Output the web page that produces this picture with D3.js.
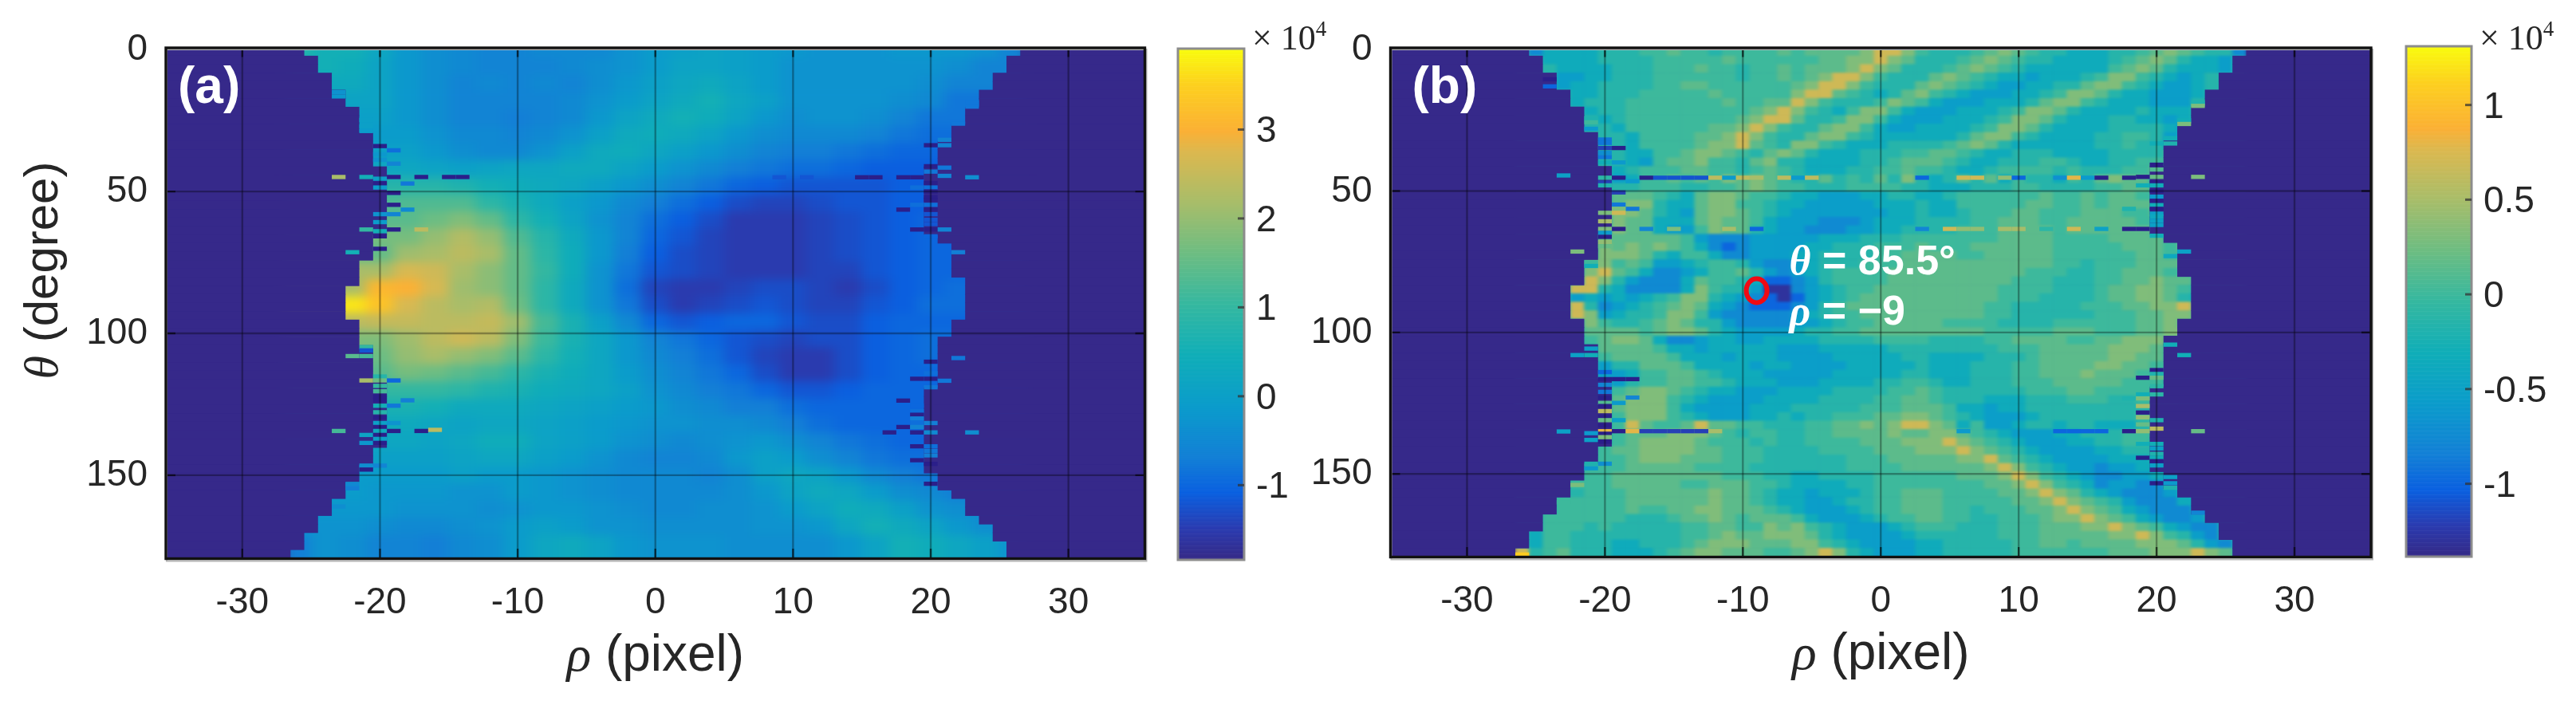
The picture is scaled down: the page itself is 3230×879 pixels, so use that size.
<!DOCTYPE html>
<html><head><meta charset="utf-8">
<script src="https://cdn.jsdelivr.net/npm/d3@7"></script>
<style>
html,body{margin:0;background:#fff;overflow:hidden}
text{font-family:"Liberation Sans",Arial,sans-serif;fill:#262626}
</style></head><body>
<script>
// ---------- data ----------
const rhoTicks=[-30,-20,-10,0,10,20,30];
const thetaTicks=[0,50,100,150];
const cbarTicksA=[-1,0,1,2,3];
const cbarTicksB=[-1,-0.5,0,0.5,1];
const parulaStops=[0,.06,.13,.2,.3,.4,.5,.6,.7,.8,.84,.93,1];
const parulaColors=["#352a87","#2a3bb0","#0a60e0","#1380d6","#0b9ccb","#10aeb8","#35b8a0","#6dbd82","#a8bd6a","#dcb84f","#fbb035","#fdd01f","#f9fb0e"];
const backgroundColor="#36298a";

// first and last valid rho for each 3 degree theta row (both panels)
const supportLeft=[-25,-24,-24,-23,-23,-22,-22,-21,-21,-21,-20,-20,-20,-20,-19,-19,-19,-19,-19,-19,-19,-19,-20,-20,-20,-21,-21,-21,-22,-22,-22,-22,-21,-21,-21,-20,-20,-20,-20,-19,-19,-19,-19,-19,-19,-19,-19,-20,-20,-21,-21,-22,-22,-23,-23,-24,-24,-25,-25,-26];
const supportRight=[26,25,25,24,24,23,23,22,22,21,21,20,20,20,19,19,19,19,19,19,19,19,20,21,21,21,21,22,22,22,22,22,21,21,20,20,20,20,20,20,19,19,19,19,19,19,19,19,19,19,20,20,21,22,22,23,24,24,25,25];

// Panel (a): values x 10^3, rows theta = 0,6,...,174; columns rho = -26,-24,...,26
const rhoCoarse=d3.range(-26,27,2);
const thetaCoarse=d3.range(0,175,6);
const fieldA=[
[8,5,5,2,-2,-4,-5,-6,-6,-5,-5,-5,-3,-1,0,1,0,-1,-2,-3,-3,-3,-2,-2,-2,-3,-6],
[5,5,4,1,-2,-4,-5,-6,-6,-6,-5,-4,-3,-1,1,1,0,-1,-3,-3,-3,-3,-3,-3,-4,-6,-6],
[3,3,3,1,-2,-4,-6,-5,-6,-5,-6,-4,-2,0,2,3,1,-1,-3,-3,-3,-3,-3,-4,-6,-6,-6],
[1,1,1,1,-2,-4,-6,-6,-6,-6,-5,-3,-1,1,3,5,2,0,-3,-3,-3,-3,-4,-5,-8,-8,-8],
[0,0,0,0,-2,-4,-6,-6,-7,-6,-5,-2,1,3,5,4,1,-2,-4,-3,-3,-4,-6,-8,-8,-8,-8],
[-1,-1,-1,-1,-1,-3,-5,-5,-6,-5,-3,0,3,4,3,1,-2,-4,-5,-5,-5,-6,-8,-9,-9,-9,-9],
[0,0,0,0,0,-2,-4,-5,-5,-3,0,3,4,2,0,-2,-4,-6,-7,-7,-8,-9,-10,-10,-10,-10,-10],
[2,2,2,2,2,1,0,1,2,2,3,3,1,-1,-3,-5,-7,-8,-9,-9,-10,-11,-11,-11,-11,-11,-11],
[8,8,8,8,8,8,7,5,4,3,2,0,-2,-4,-6,-8,-10,-11,-12,-12,-12,-12,-11,-11,-11,-11,-11],
[13,13,13,13,13,13,13,9,6,3,0,-2,-5,-7,-9,-11,-13,-14,-14,-13,-12,-12,-11,-11,-11,-11,-11],
[14,14,14,14,14,16,18,15,9,5,1,-3,-6,-9,-11,-13,-15,-15,-15,-14,-13,-12,-11,-10,-10,-10,-10],
[17,17,17,17,17,20,23,20,13,8,3,-2,-6,-10,-12,-14,-15,-15,-15,-14,-13,-12,-11,-10,-10,-10,-10],
[15,15,15,15,21,22,24,22,15,9,4,-2,-7,-11,-13,-14,-15,-15,-15,-14,-13,-12,-11,-10,-10,-10,-10],
[22,22,22,22,27,26,22,19,15,10,4,-3,-8,-12,-13,-14,-15,-15,-15,-14,-14,-12,-11,-10,-10,-10,-10],
[22,22,22,31,30,27,21,19,15,9,3,-3,-9,-14,-15,-15,-14,-13,-13,-14,-15,-13,-11,-10,-9,-9,-9],
[37,37,37,33,27,24,22,23,16,9,3,-3,-8,-13,-15,-14,-13,-12,-13,-14,-14,-12,-11,-9,-9,-9,-9],
[24,24,24,25,25,24,24,25,21,12,6,0,-5,-10,-12,-11,-10,-10,-12,-13,-13,-11,-10,-10,-10,-10,-10],
[18,18,18,18,21,24,26,24,18,11,6,2,-2,-6,-8,-10,-12,-13,-14,-13,-13,-11,-10,-9,-9,-9,-9],
[16,16,16,16,20,22,20,18,14,9,5,2,-2,-5,-7,-9,-12,-14,-15,-15,-13,-11,-10,-9,-9,-9,-9],
[14,14,14,14,17,16,14,12,9,6,4,2,-1,-4,-6,-8,-10,-13,-15,-15,-13,-11,-10,-10,-10,-10,-10],
[10,10,10,10,10,10,9,7,6,4,3,2,0,-3,-5,-7,-8,-10,-12,-12,-11,-10,-10,-10,-10,-10,-10],
[6,6,6,6,6,5,3,3,3,2,1,0,-1,-2,-4,-5,-7,-7,-9,-10,-10,-10,-10,-10,-10,-10,-10],
[3,3,3,3,3,2,1,2,2,1,0,-1,-2,-3,-3,-4,-4,-5,-7,-9,-10,-10,-10,-10,-10,-10,-10],
[2,2,2,2,2,1,2,4,4,1,0,-1,-3,-4,-5,-4,-3,-2,-4,-6,-8,-9,-10,-10,-10,-10,-10],
[0,0,0,0,0,0,1,2,2,0,-1,-3,-5,-6,-6,-5,-2,0,-1,-4,-6,-8,-9,-9,-9,-9,-9],
[-1,-1,-1,-1,-1,-1,0,-1,-1,-2,-3,-4,-5,-5,-5,-6,-4,0,2,1,-2,-5,-7,-8,-8,-8,-8],
[-1,-1,-1,-2,-2,-2,-3,-3,-1,-2,-3,-4,-5,-5,-5,-5,-4,-2,1,3,2,-1,-4,-5,-7,-7,-7],
[-2,-2,-2,-2,-3,-3,-3,-4,-3,-2,-2,-3,-4,-5,-5,-4,-4,-3,-1,1,4,3,0,-3,-4,-5,-5],
[-3,-3,-3,-4,-5,-5,-4,-3,-1,0,-1,-3,-3,-4,-4,-4,-4,-3,-3,-2,2,5,3,1,-2,-4,-4],
[-7,-3,-4,-6,-6,-7,-5,-4,-1,2,3,1,-2,-3,-3,-3,-4,-4,-4,-4,-2,1,5,4,2,0,-3]
];

// Panel (b): level digits, rows theta = 0,3,...,177; columns rho = -26..26
const levelValuesB=[-13,-10,-7.5,-5.5,-3.5,-1.5,0,1.5,3.2,7];
const fieldB=[
"5244445556 6766566667 6777789986 5556787655 4445567876 552",
"5544445555 6666676666 6677889875 5567876554 4445678754 435",
"5554444555 6667665667 6777898755 5678765444 4446787544 435",
"5553344555 6666665667 6789986555 7876544344 4568865434 555",
"5553445555 6677666666 7899865557 8765433445 5788654334 555",
"5555445556 6666766666 8997654578 6543334456 8875443334 555",
"5555455566 6666676677 9865556876 4333444578 8654443335 555",
"5555545566 6666666789 8654688643 3344456887 5444454445 555",
"5555554566 6666667899 7556886433 3444568875 4445544345 555",
"5555555466 6666778986 5578864334 4445688754 4445555435 555",
"5555555546 6667789865 5788654444 4457886544 4455665345 555",
"5555555546 6667889765 8865444555 5678754444 4455655455 555",
"5555555544 6678876578 7544455566 7765445554 4445555665 555",
"5555555543 6778665785 5444455677 7654455566 5445566665 555",
"5555555456 6677665676 5444556676 6544566665 6555667655 555",
"5555555346 6767687876 5575657585 4575746554 6578774565 555",
"5555555556 6655667876 6555666655 4445556655 5566776665 555",
"5555555777 6547887665 4433344554 4566666676 6767766676 555",
"5555555788 5447886654 4333334445 4466666776 6767777666 555",
"5555555887 5437887654 3333333445 4456667766 6777667776 555",
"5555555877 4447877643 3322234445 5556677766 7777766766 555",
"5555555877 4336877543 3222334455 5566677776 7777777666 555",
"5555557777 7763222333 3344455566 6666677776 6667777666 555",
"5555558787 8764212333 3445556667 6667777776 6666777676 555",
"5555558887 5466422333 4455556677 7766777776 6666677667 555",
"5555588676 3345665322 3455566677 7777777776 6566677777 555",
"5555589764 2234667532 3456666777 7777777666 5566777666 555",
"5555598532 2247665411 2356666777 7777776665 5566778776 555",
"5555995422 2248655300 2345667777 7777766665 5567788765 555",
"5555343434 5688543210 1345677777 7777766655 5567788754 555",
"5555952345 6787432111 2356777777 7777665555 5666778897 555",
"5555983455 6886322222 3456677777 7777665555 5566677887 555",
"5555586556 7875532222 3345667777 7666655556 6666677877 555",
"5555577776 7887543333 4556677777 7777666667 7766677887 555",
"5555567887 4223443344 4455556666 5555667777 6677888766 555",
"5555557777 6443444443 3344444555 5555566677 7778887666 555",
"5555556777 7644434443 3334444455 4444555677 7778877666 555",
"5555553557 7764444344 3333444445 4445556677 7788776666 555",
"5555553346 6776544433 3334444455 4445556677 7877766665 555",
"5555555356 6776654443 3344445566 5445556667 7777666555 555",
"5555555678 8765443334 4445555667 6555555666 7766666655 555",
"5555555788 8654333344 4455556677 6555444555 6665566655 555",
"5555555788 8643333444 5555566677 7644344555 5555555655 555",
"5555555688 8654333445 4556667788 7654333455 5555566555 555",
"5555555697 6679776655 5667787899 8746334554 5544456655 555",
"5555555677 7888765665 5667777877 8876543334 4555666655 555",
"5555555678 8887666565 5666677788 8987654333 4455665555 555",
"5555556778 8887766655 5566667778 8898765433 3344555555 555",
"5555556678 8877766655 5555666777 7788976543 3334445555 555",
"5555566677 7776666555 5555666677 7777898654 3323344555 555",
"5555566777 7777766655 4455556666 6677789865 4322334455 555",
"5555666777 7766777665 4444556666 6666778986 5423322455 555",
"5555566677 7777877654 4344456677 7666677898 7543222345 555",
"5556666677 7777877654 4334556677 7666667789 8765322244 555",
"5556666676 6778877765 4333456677 7665666778 9876432224 555",
"5566666655 5677876777 6433345667 7665566678 8987643223 555",
"5566656555 5566776687 8654333456 6655566677 7889876432 255",
"5466555555 5566787788 8754333345 5555566677 7778898653 255",
"5466555445 5567888777 8865433334 4555556677 6777788875 325",
"9567555444 5678877766 7898543334 4555556666 6667778889 875"
];

// isolated one-row cells [rho, theta, value x10^3]
const spikesA=[[-23,15,-3],[-23,16.5,-2],[-21,24.8,0],[-21,27,0],[-21,28.7,-1],[-20,34,-18],[-19,35.5,-9],[-20,36.9,-2],[-20,38.8,-3],[-19,40.2,-6],
[-23,44.9,22],[-21,44.9,5],[-20,45.5,0],[-19,44.9,-18],[-17,44.9,-18],[-15,44.9,-14],[-14,44.9,-14],[-18,47.2,-8],[-20,47.2,-18],[-20,48.6,-1],[-19,50.5,-18],[-19,54.7,-18],[-18,56.4,-5],[-19,58,-6],[-20,58,-3],[-20,60.8,-1],
[-21,63.4,10],[-20,64,5],[-19,63.4,-18],[-20,65.8,-18],[-20,70.2,-14],[-22,71.4,5],[-17,63.4,24],
[23,18.6,-8],[23,20.1,-8],[22,26.1,-8],[21,31.8,-6],[21,33.7,-6],[20,33.7,-14],[20,41.1,-18],[21,41.6,-8],[20,43,-8],[21,44.5,-6],[23,45,-4],[19,45,-18],[18,45,-18],[16,45,-16],[15,45,-16],[11,45,-12],[9,45,-12],
[20,47,-18],[20,48.6,-9],[19,48.6,-9],[20,50,-18],[20,52,-16],[20,53,-18],[19,54.7,-9],[20,54.7,-9],[18,56.4,-16],[20,56.4,-18],[20,58,-12],[20,60,-12],[20,61.5,-12],[19,63.4,-18],[20,63.4,-14],[21,63.4,-6],[20,65.8,-10],[22,71.4,-7],
[22,108.7,-8],[20,110,-16],[20,114,-9],[19,116,-18],[20,116,-18],[21,116.7,-8],[20,119,-8],[18,123.7,-14],[19,125.5,-10],[19,127.4,-9],[19,128.7,-18],[19,130,-7],[19,131.6,-9],[20,131.6,-7],[18,133,-14],[19,133,-6],[17,134.9,-18],[19,134.9,-18],[20,134.9,-5],[23,134.9,-4],[19,139.8,-18],[20,139.8,-9],[20,141.4,-8],[20,143,-7],[19,144.7,-16],[20,146,-18],[20,153,-14],
[-21,104.8,10],[-21,106,-12],[-21,108,12],[-22,108,14],[-20,115.2,8],[-21,116.6,22],[-20,116.6,16],[-19,116.6,-10],[-20,118.5,10],[-20,120.4,12],[-20,122.2,-18],[-18,123.6,-7],[-20,123.6,-18],[-20,125.5,5],[-19,125.5,-8],[-20,127.8,8],[-20,129.7,-18],[-20,131.6,0],[-19,131.6,-3],[-20,133,-18],[-23,134.4,12],[-20,134.4,3],[-19,134.4,-18],[-17,134.4,-18],[-16,134,24],[-21,135.8,1],[-20,135.8,-18],[-20,137.2,0],[-21,138.6,-2],[-20,138.6,-18],[-21,146.6,-4],[-20,146.6,-6],[-21,148,-18],[-22,153.2,-5],[-22,154.6,-7],[-23,161,-4]];
const spikesB=[[-24,10.5,-13.8],[-24,13,-10],[-21,24.3,-2],[-21,25.7,0],[-21,28,-6],[-20,31.8,-9],[-20,33,-9],[-19,34.8,-13.8],[-20,34.8,-12],[-20,36.5,-7],[-20,38,-9],[-20,39.9,-3],[-19,39.9,-6],[-23,44.5,-5],[-20,45.3,-1],[-19,45.3,-13.8],[-17,45.3,-13.8],[-16,45.3,-11],[-15,45.3,-11],[-14,45.3,-11],[-13,45.3,-11],
[-12,45.3,6],[-11,45.3,-6],[-10,45.3,6],[-9,45.3,5],[-7,45.3,6],[-6,45.3,-6],[-5,45.3,6],[-18,46.5,-6],[-20,47,-12],[-20,48,-2],[-19,50.5,-12],[-19,54.8,-9],[-18,56.3,-9],[-19,56.3,3],[-20,57.7,3],[-19,57.7,7],[-20,60.7,5],[-19,63.4,-13.8],[-20,63.4,3],[-20,64.8,-6],[-20,66.2,-13.8],[-20,68,4],[-20,69.5,2],[-22,71.4,3],[-21,75.2,0],[-21,76.5,-3],
[-17,63.4,-8],[-15,63.4,3],[-11,63.4,5],[-9,63.4,-10],[3,63.4,-8],[5,63.4,7],[6,63.4,4],[7,63.4,4],[9,63.4,5],[10,63.4,5],[12,63.4,-1],[14,63.4,7],[16,63.4,-5],[18,63.4,-13.8],[19,63.4,-13.8],
[3,45.3,-10],[6,45.3,7],[7,45.3,7],[9,45.3,4],[10,45.3,-10],[13,45.3,-7],[14,45.3,8],[15,45.3,-6],[16,45.3,-13.8],[18,45.3,-13.8],
[-20,134.9,8],[-19,134.9,-13.8],[-18,134.9,8],[-17,134.9,-12],[-16,134.9,-12],[-15,134.9,-12],[-14,134.9,-12],[-13,134.9,-12],[-12,134.9,5],[6,134.9,-6],[13,134.9,-10],[14,134.9,-10],[15,134.9,-10],[16,134.9,-10],[18,134.9,-13.8],[19,134.9,4],[23,134.9,2],
[23,18.7,-2],[23,19.9,3],[22,25,-3],[22,26.3,3],[21,31.3,-3],[21,33.2,-2],[20,33.2,-3],[20,40.7,-13.8],[20,42.4,1],[20,45,2],[19,45,-13.8],[23,45,3],[20,47,-13.8],[19,48,-3],[20,48,-3],[20,50,-13.8],[20,52,-6],[20,53.5,-13.8],[20,55,-3],[18,56.3,-2],[20,56.3,-13.8],[20,58,-5],[20,59,-4],[20,60.5,-5],[20,62,-5],[20,65.8,-3],[22,71.4,-5],[21,73,-4],
[21,104.3,-3],[22,108,-3],[20,113.3,-13.8],[20,114.7,-2],[19,116,-13.8],[20,116,2],[20,119,-1],[19,121.9,-3],[20,121.9,-1],[18,123.3,-2],[19,123.3,3],[19,126,5],[19,128.3,-13.8],[19,130,4],[20,131,-2],[19,132.5,2],[20,134,6],[19,139.4,-3],[20,139.4,-3],[20,141,-5],[20,142.9,-2],[19,144.3,-13.8],[20,144.3,-3],[20,145.5,-13.8],[20,147,-5],[21,151.1,-5],[20,153.3,-13.8],[21,153.3,-6],[21,154.9,-2],[23,163.7,-8],
[-21,105.7,-5],[-22,108,-5],[-21,108,-3],[-20,114,-10],[-20,116.5,-13.8],[-19,116.5,-13.8],[-18,116.5,-13.8],[-20,118.5,-8],[-20,121,-9],[-20,123,-13.8],[-18,123,-8],[-19,124.9,-6],[-20,124.9,1],[-20,126,-13.8],[-20,127.8,6],[-20,129.7,-13.8],[-20,131,2],[-19,131,-5],[-20,132.9,-13.8],[-20,135.8,-13.8],[-23,135,-5],[-21,135.6,-6],[-20,137,3],[-21,138,-5],[-20,138.6,-13.8],[-20,146.4,-7],[-21,146.4,-2],[-21,148,-6],[-22,153.9,3],[-23,160,0],[-26,178.5,11]];

// ---------- layout ----------
const W=3230,H=879;
const panelA={label:"(a)",x0:[208,1435.5],yr:[59.5,700],xd:[-35.55,35.55],cbar:{x:1477,w:83,y:[61,702],d:[-1.84,3.91],ticks:cbarTicksA,fmt:d=>d}};
const panelB={label:"(b)",x0:[1743.5,2973],yr:[59.5,698],xd:[-35.55,35.55],cbar:{x:3017,w:82,y:[58,698],d:[-1.385,1.31],ticks:cbarTicksB,fmt:d=>d}};
const parula=d3.scaleLinear().domain(parulaStops).range(parulaColors).interpolate(d3.interpolateRgb).clamp(true);

const svg=d3.select("body").append("svg").attr("width",W).attr("height",H).attr("viewBox",`0 0 ${W} ${H}`);
const defs=svg.append("defs");
function blur(id,sx,sy){defs.append("filter").attr("id",id).attr("filterUnits","userSpaceOnUse").attr("x",0).attr("y",0).attr("width",W).attr("height",H)
  .attr("color-interpolation-filters","sRGB").append("feGaussianBlur").attr("stdDeviation",`${sx} ${sy}`);}
blur("fieldBlurA",8,6);blur("fieldBlurB",2,1.5);blur("soft",0.7,0.7);blur("softText",0.5,0.5);
const lab=svg.append("g").attr("filter","url(#softText)");

function drawPanel(p,cells,spikes,idx){
  const x=d3.scaleLinear().domain(p.xd).range(p.x0);
  const y=d3.scaleLinear().domain([-0.75,179.25]).range(p.yr);
  const t=v=>(v-p.cbar.d[0])/(p.cbar.d[1]-p.cbar.d[0]);
  const col=v=>parula(t(v/10));
  const clipId="clip"+idx;
  defs.append("clipPath").attr("id",clipId).append("rect").attr("x",p.x0[0]).attr("y",p.yr[0]).attr("width",p.x0[1]-p.x0[0]).attr("height",p.yr[1]-p.yr[0]);
  const g=svg.append("g").attr("clip-path",`url(#${clipId})`);
  g.append("rect").attr("x",p.x0[0]).attr("y",p.yr[0]).attr("width",p.x0[1]-p.x0[0]).attr("height",p.yr[1]-p.yr[0]).attr("fill",backgroundColor);
  const soft=g.append("g").attr("filter","url(#soft)");
  const fg=soft.append("g").attr("filter",`url(#fieldBlur${p.label[1].toUpperCase()})`);
  fg.selectAll("rect").data(cells).join("rect")
    .attr("x",d=>x(d.r0)-0.3).attr("width",d=>x(d.r1)-x(d.r0)+0.6)
    .attr("y",d=>y(d.t0)-0.3).attr("height",d=>y(d.t1)-y(d.t0)+0.6)
    .attr("fill",d=>col(d.v));
  const rows=supportLeft.map((l,i)=>({i,l,r:supportRight[i]}));
  const mg=soft.append("g").attr("fill",backgroundColor);
  mg.selectAll("rect.l").data(rows).join("rect").attr("class","l")
    .attr("x",p.x0[0]-4).attr("width",d=>x(d.l-.5)-p.x0[0]+4)
    .attr("y",d=>y(d.i*3-.75)-(d.i==0?6:.3)).attr("height",d=>y(d.i*3+2.25)-y(d.i*3-.75)+(d.i==0||d.i==59?6.6:.6));
  mg.selectAll("rect.r").data(rows).join("rect").attr("class","r")
    .attr("x",d=>x(d.r+.5)).attr("width",d=>p.x0[1]-x(d.r+.5)+4)
    .attr("y",d=>y(d.i*3-.75)-(d.i==0?6:.3)).attr("height",d=>y(d.i*3+2.25)-y(d.i*3-.75)+(d.i==0||d.i==59?6.6:.6));
  soft.append("g").selectAll("rect").data(spikes).join("rect")
    .attr("x",d=>x(d[0]-.5)).attr("width",d=>x(d[0]+.5)-x(d[0]-.5))
    .attr("y",d=>y(d[1]-.75)).attr("height",d=>y(d[1]+.75)-y(d[1]-.75))
    .attr("fill",d=>d[2]<=-13.5?"#2b1f8a":col(d[2]));
  // grid
  const grid=g.append("g").attr("stroke","#000").attr("stroke-opacity",.32).attr("stroke-width",2.4).attr("filter","url(#soft)");
  grid.selectAll("line.v").data(rhoTicks).join("line").attr("class","v").attr("x1",x).attr("x2",x).attr("y1",p.yr[0]).attr("y2",p.yr[1]);
  grid.selectAll("line.h").data(thetaTicks.slice(1)).join("line").attr("class","h").attr("y1",y).attr("y2",y).attr("x1",p.x0[0]).attr("x2",p.x0[1]);
  const tk=g.append("g").attr("stroke","#000").attr("stroke-opacity",.6).attr("stroke-width",2.4);
  tk.selectAll("line.t").data(rhoTicks).join("line").attr("class","t").attr("x1",x).attr("x2",x).attr("y1",p.yr[0]).attr("y2",p.yr[0]+12);
  tk.selectAll("line.b").data(rhoTicks).join("line").attr("class","b").attr("x1",x).attr("x2",x).attr("y1",p.yr[1]).attr("y2",p.yr[1]-12);
  tk.selectAll("line.l").data(thetaTicks.slice(1)).join("line").attr("class","l").attr("y1",y).attr("y2",y).attr("x1",p.x0[0]).attr("x2",p.x0[0]+12);
  tk.selectAll("line.r").data(thetaTicks.slice(1)).join("line").attr("class","r").attr("y1",y).attr("y2",y).attr("x1",p.x0[1]).attr("x2",p.x0[1]-12);
  // frame
  svg.append("rect").attr("x",p.x0[0]+1).attr("y",p.yr[0]+2.5).attr("width",p.x0[1]-p.x0[0]+1).attr("height",p.yr[1]-p.yr[0]+1).attr("fill","none").attr("stroke","#b5b5b5").attr("stroke-width",2);
  svg.append("rect").attr("x",p.x0[0]).attr("y",p.yr[0]+.5).attr("width",p.x0[1]-p.x0[0]).attr("height",p.yr[1]-p.yr[0]).attr("fill","none").attr("stroke","#111").attr("stroke-width",3.4);
  // tick labels
  lab.selectAll("text.x"+idx).data(rhoTicks).join("text").attr("class","x"+idx).attr("x",x).attr("y",p.yr[1]+69).attr("text-anchor","middle").attr("font-size",46).text(d=>d);
  lab.selectAll("text.y"+idx).data(thetaTicks).join("text").attr("class","y"+idx).attr("x",p.x0[0]-23).attr("y",d=>y(d)+13).attr("text-anchor","end").attr("font-size",46).text(d=>d);
  const xl=lab.append("text").attr("x",x(0)).attr("y",p.yr[1]+141).attr("text-anchor","middle").attr("font-size",64);
  xl.append("tspan").attr("font-family","Liberation Serif").attr("font-style","italic").text("ρ");
  xl.append("tspan").text(" (pixel)");
  // panel letter
  svg.append("text").attr("x",p.x0[0]+(idx?27:15)).attr("y",129).attr("font-size",64).attr("font-weight",700).style("fill","#fff").text(p.label);
  // colourbar
  const c=p.cbar;
  const cy=d3.scaleLinear().domain(c.d).range([c.y[1],c.y[0]]);
  const cg=svg.append("g");
  const steps=d3.range(0,256);
  const bh=(c.y[1]-c.y[0])/256;
  cg.selectAll("rect").data(steps).join("rect").attr("x",c.x).attr("width",c.w)
    .attr("y",d=>c.y[1]-(d+1)*bh-.3).attr("height",bh+.6).attr("fill",d=>parula(d/255));
  cg.append("rect").attr("x",c.x).attr("y",c.y[0]).attr("width",c.w).attr("height",c.y[1]-c.y[0]).attr("fill","none").attr("stroke","#8c8c8c").attr("stroke-width",3);
  cg.selectAll("line").data(c.ticks).join("line").attr("x1",c.x+c.w-8).attr("x2",c.x+c.w).attr("y1",cy).attr("y2",cy).attr("stroke","#333").attr("stroke-opacity",.75).attr("stroke-width",3);
  lab.selectAll("text.c"+idx).data(c.ticks).join("text").attr("class","c"+idx).attr("x",c.x+c.w+15).attr("y",d=>cy(d)+16).attr("font-size",46).text(c.fmt);
  const e=lab.append("text").attr("x",c.x+c.w+10).attr("y",62).attr("font-size",44).attr("font-family","Liberation Serif");
  e.append("tspan").attr("font-family","Liberation Serif").text("× 10");
  e.append("tspan").attr("font-family","Liberation Serif").attr("font-size",27).attr("dy",-17).text("4");
  return {x,y};
}

const cellsA=[];
fieldA.forEach((row,i)=>row.forEach((v,j)=>cellsA.push({r0:rhoCoarse[j]-1,r1:rhoCoarse[j]+1,t0:thetaCoarse[i]-(i==0?16:3),t1:thetaCoarse[i]+(i==fieldA.length-1?16:3),v})));
const cellsB=[];
fieldB.forEach((s,i)=>{const row=s.replace(/ /g,"");for(let j=0;j<row.length;j++){const r=j-26;cellsB.push({r0:r-.5,r1:r+.5,t0:i*3-(i==0?6:.75),t1:i*3+(i==fieldB.length-1?8:2.25),v:levelValuesB[+row[j]]});}});

drawPanel(panelA,cellsA,spikesA,0);
const sb=drawPanel(panelB,cellsB,spikesB,1);

// y title
const yt=lab.append("text").attr("transform",`translate(72,339) rotate(-90)`).attr("text-anchor","middle").attr("font-size",60);
yt.append("tspan").attr("font-family","Liberation Serif").attr("font-style","italic").text("θ");
yt.append("tspan").text(" (degree)");

// annotation in panel (b)
const markerTheta=85.5,markerRho=-9;
svg.append("ellipse").attr("cx",sb.x(markerRho)).attr("cy",sb.y(markerTheta)-1).attr("rx",13).attr("ry",15).attr("fill","none").attr("stroke","#f00a14").attr("stroke-width",6);
const a1=svg.append("text").attr("x",sb.x(markerRho)+41).attr("y",344).attr("font-size",52).attr("font-weight",700).style("fill","#fff");
a1.append("tspan").attr("font-family","Liberation Serif").attr("font-style","italic").text("θ");
a1.append("tspan").text(" = 85.5°");
const a2=svg.append("text").attr("x",sb.x(markerRho)+41).attr("y",407).attr("font-size",52).attr("font-weight",700).style("fill","#fff");
a2.append("tspan").attr("font-family","Liberation Serif").attr("font-style","italic").text("ρ");
a2.append("tspan").text(" = −9");
</script>
</body></html>
